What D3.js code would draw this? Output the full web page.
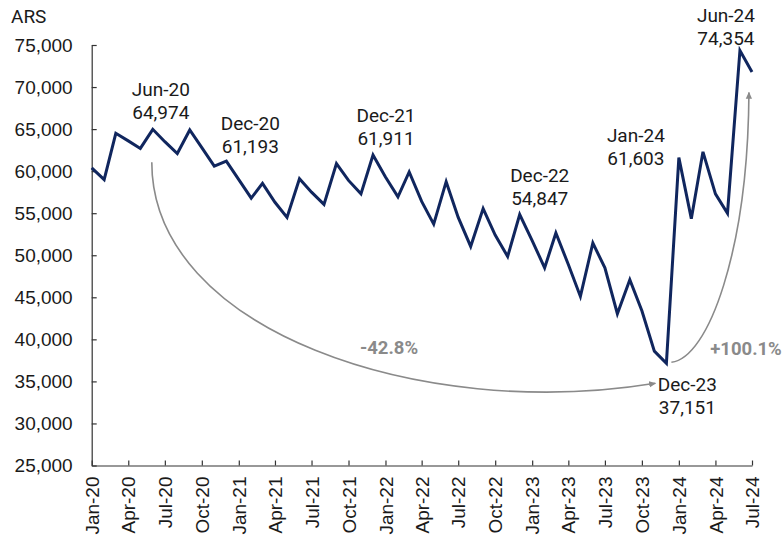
<!DOCTYPE html>
<html>
<head>
<meta charset="utf-8">
<script src="https://cdn.jsdelivr.net/npm/d3@7"></script>
<style>
  html, body { margin: 0; padding: 0; background: #fff; }
  svg { display: block; font-family: Roboto, "Noto Sans", sans-serif; }
</style>
</head>
<body>
<svg id="chart" width="784" height="537"></svg>
<script>
// Monthly series, Jan-2020 to Jul-2024 (ARS)
const months = [
  "Jan-20","Feb-20","Mar-20","Apr-20","May-20","Jun-20","Jul-20","Aug-20","Sep-20","Oct-20","Nov-20","Dec-20",
  "Jan-21","Feb-21","Mar-21","Apr-21","May-21","Jun-21","Jul-21","Aug-21","Sep-21","Oct-21","Nov-21","Dec-21",
  "Jan-22","Feb-22","Mar-22","Apr-22","May-22","Jun-22","Jul-22","Aug-22","Sep-22","Oct-22","Nov-22","Dec-22",
  "Jan-23","Feb-23","Mar-23","Apr-23","May-23","Jun-23","Jul-23","Aug-23","Sep-23","Oct-23","Nov-23","Dec-23",
  "Jan-24","Feb-24","Mar-24","Apr-24","May-24","Jun-24","Jul-24"
];
const values = [
  60400, 59000, 64500, 63600, 62700, 64974, 63500, 62100, 64900, 62800, 60600, 61193,
  59000, 56800, 58550, 56300, 54500, 59100, 57500, 56050, 60900, 58900, 57300, 61911,
  59300, 56950, 59900, 56400, 53700, 58750, 54500, 51050, 55550, 52400, 49850, 54847,
  51750, 48500, 52650, 48900, 45100, 51450, 48500, 43050, 47100, 43400, 38600, 37151,
  61603, 54350, 62300, 57300, 55000, 74354, 71800
];
const yTicks = [25000, 30000, 35000, 40000, 45000, 50000, 55000, 60000, 65000, 70000, 75000];
const xTickLabels = ["Jan-20","Apr-20","Jul-20","Oct-20","Jan-21","Apr-21","Jul-21","Oct-21","Jan-22","Apr-22",
  "Jul-22","Oct-22","Jan-23","Apr-23","Jul-23","Oct-23","Jan-24","Apr-24","Jul-24"];
const labelledMonths = ["Jun-20","Dec-20","Dec-21","Dec-22","Jan-24","Jun-24","Dec-23"];
const changeLabels = ["-42.8%", "+100.1%"];
const unitLabel = "ARS";

const parse = d3.timeParse("%b-%y");
const fmt = d3.format(",");
const data = months.map((m, i) => ({ m, date: parse(m), v: values[i] }));
const byMonth = new Map(data.map(d => [d.m, d]));

const svg = d3.select("#chart");
const plotLeft = 91.7, plotRight = 752, plotTop = 45, plotBottom = 465.5;

const x = d3.scaleTime()
  .domain(d3.extent(data, d => d.date))
  .range([plotLeft, plotRight]);
const y = d3.scaleLinear()
  .domain([25000, 75000])
  .range([plotBottom, plotTop]);

const ink = "#1a1a1a";
const axisColor = "#333";
const lineColor = "#10265e";
const grey = "#8a8a8a";

// Y axis (ticks pointing into the plot)
const yAxis = svg.append("g")
  .attr("transform", `translate(${plotLeft},0)`)
  .call(d3.axisLeft(y).tickValues(yTicks).tickFormat(fmt)
    .tickSizeInner(-5).tickSizeOuter(0).tickPadding(19));
yAxis.selectAll("path, line").attr("stroke", axisColor).attr("stroke-width", 1.2);
yAxis.selectAll("text").attr("fill", ink).style("font-size", "19px");

// X axis with rotated month labels
const xAxis = svg.append("g")
  .attr("transform", `translate(0,${plotBottom})`)
  .call(d3.axisBottom(x).tickValues(xTickLabels.map(parse)).tickFormat(d3.timeFormat("%b-%y"))
    .tickSizeInner(-5).tickSizeOuter(0));
xAxis.selectAll("path, line").attr("stroke", axisColor).attr("stroke-width", 1.2);
xAxis.selectAll("text")
  .attr("fill", ink)
  .style("font-size", "19px")
  .attr("text-anchor", "end")
  .attr("transform", "rotate(-90)")
  .attr("x", -11)
  .attr("y", 0)
  .attr("dy", "0.35em");

// Unit label
svg.append("text")
  .attr("x", 11).attr("y", 23)
  .attr("fill", ink).style("font-size", "19px")
  .text(unitLabel);

// Arrowhead
svg.append("defs").append("marker")
  .attr("id", "arrow")
  .attr("viewBox", "0 0 10 10")
  .attr("refX", 9).attr("refY", 5)
  .attr("markerWidth", 7).attr("markerHeight", 7)
  .attr("markerUnits", "userSpaceOnUse")
  .attr("orient", "auto")
  .append("path").attr("d", "M0,0.5 L10,5 L0,9.5 Z").attr("fill", grey);

// Change arrows between peak, trough and latest peak
const pJun20 = byMonth.get("Jun-20"), pDec23 = byMonth.get("Dec-23"), pJun24 = byMonth.get("Jun-24");
const a0 = [x(pJun20.date) - 1, y(pJun20.v) + 33];
const a1 = [x(pDec23.date) - 11, y(pDec23.v) + 20];
const downPath = d3.path();
downPath.moveTo(a0[0], a0[1]);
downPath.bezierCurveTo(a0[0], a0[1] + 168, 420, 422, a1[0], a1[1]);
svg.append("path").attr("d", downPath.toString())
  .attr("fill", "none").attr("stroke", grey).attr("stroke-width", 1.6)
  .attr("marker-end", "url(#arrow)");

const b0 = [x(pDec23.date) + 5, y(pDec23.v) - 1];
const b1 = [x(pJun24.date) + 9, y(pJun24.v) + 42];
const upPath = d3.path();
upPath.moveTo(b0[0], b0[1]);
upPath.bezierCurveTo(b0[0] + 37, b0[1] - 4, b1[0] - 1, b1[1] + 158, b1[0], b1[1]);
svg.append("path").attr("d", upPath.toString())
  .attr("fill", "none").attr("stroke", grey).attr("stroke-width", 1.6)
  .attr("marker-end", "url(#arrow)");

svg.append("text")
  .attr("x", 389).attr("y", 354).attr("text-anchor", "middle")
  .attr("fill", grey).style("font-size", "18.5px").style("font-weight", "bold")
  .text(changeLabels[0]);
svg.append("text")
  .attr("x", 746).attr("y", 355).attr("text-anchor", "middle")
  .attr("fill", grey).style("font-size", "18.5px").style("font-weight", "bold")
  .text(changeLabels[1]);

// Series line
svg.append("path")
  .datum(data)
  .attr("fill", "none")
  .attr("stroke", lineColor)
  .attr("stroke-width", 3)
  .attr("stroke-linejoin", "miter")
  .attr("d", d3.line().x(d => x(d.date)).y(d => y(d.v)));

// Callouts: month name above value, offset from the point
const calloutOffsets = {
  "Jun-20": [8, -33],
  "Dec-20": [24, -31],
  "Dec-21": [13, -33],
  "Dec-22": [20, -32],
  "Jan-24": [-43, -16],
  "Jun-24": [-14, -28],
  "Dec-23": [21, 28]
};
labelledMonths.forEach(m => {
  const d = byMonth.get(m);
  const [dx, dy] = calloutOffsets[m];
  const t = svg.append("text")
    .attr("text-anchor", "middle")
    .attr("fill", ink)
    .style("font-size", "19px");
  t.append("tspan").attr("x", x(d.date) + dx).attr("y", y(d.v) + dy).text(d.m);
  t.append("tspan").attr("x", x(d.date) + dx).attr("y", y(d.v) + dy + 23).text(fmt(d.v));
});
</script>
</body>
</html>
